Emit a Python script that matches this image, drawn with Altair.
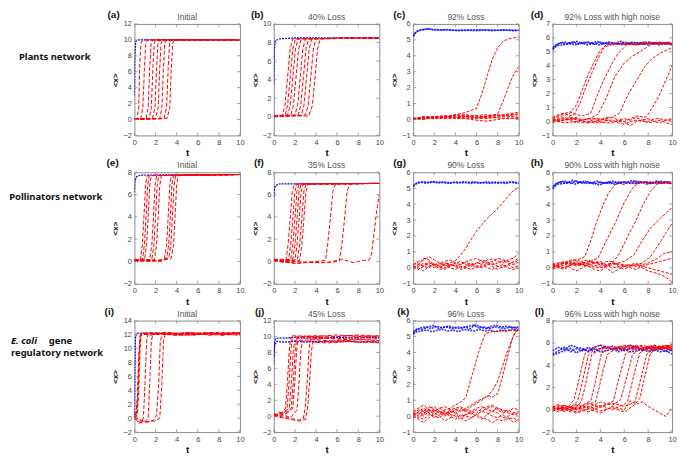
import altair as alt
import pandas as pd

# ---------------- data ----------------
ROW_LABELS = ["Plants network", "Pollinators network", "E. coli gene regulatory network"]
TITLES = {
    "a": "Initial", "b": "40% Loss", "c": "92% Loss", "d": "92% Loss with high noise",
    "e": "Initial", "f": "35% Loss", "g": "90% Loss", "h": "90% Loss with high noise",
    "i": "Initial", "j": "45% Loss", "k": "96% Loss", "l": "96% Loss with high noise",
}
Y_DOMAIN = {"a": [-2, 12], "b": [-2, 10], "c": [-1, 6], "d": [-1, 7],
            "e": [-2, 8], "f": [-2, 8], "g": [-1, 6], "h": [-1, 6],
            "i": [-2, 14], "j": [-2, 12], "k": [-1, 6], "l": [-2, 8]}
Y_TICKS = {"a": [-2, 0, 2, 4, 6, 8, 10, 12], "b": [-2, 0, 2, 4, 6, 8, 10],
           "c": [-1, 0, 1, 2, 3, 4, 5, 6], "d": [-1, 0, 1, 2, 3, 4, 5, 6, 7],
           "e": [-2, 0, 2, 4, 6, 8], "f": [-2, 0, 2, 4, 6, 8],
           "g": [-1, 0, 1, 2, 3, 4, 5, 6], "h": [-1, 0, 1, 2, 3, 4, 5, 6],
           "i": [-2, 0, 2, 4, 6, 8, 10, 12, 14], "j": [-2, 0, 2, 4, 6, 8, 10, 12],
           "k": [-1, 0, 1, 2, 3, 4, 5, 6], "l": [-2, 0, 2, 4, 6, 8]}
X_TICKS = [0, 2, 4, 6, 8, 10]

A_BLUE = [[[0, 3.0], [0.04, 7.5], [0.12, 9.8], [0.4, 10.0], [10, 10.0]]]
A_RED = [
    [[0, 0.1], [0.25, 0.1], [0.4, 1.5], [0.5, 6.5], [0.62, 9.6], [0.8, 10], [10, 10]],
    [[0, 0.0], [0.6, 0.1], [0.8, 1.5], [0.95, 6.5], [1.08, 9.6], [1.25, 10], [10, 10]],
    [[0, 0.1], [1.1, 0.1], [1.3, 1.5], [1.45, 6.5], [1.58, 9.6], [1.75, 10], [10, 10]],
    [[0, 0.0], [1.4, 0.1], [1.6, 1.5], [1.75, 6.5], [1.88, 9.6], [2.05, 10], [10, 10]],
    [[0, 0.1], [1.7, 0.1], [1.95, 1.5], [2.1, 6.5], [2.23, 9.6], [2.4, 10], [10, 10]],
    [[0, 0.0], [2.0, 0.1], [2.25, 1.5], [2.4, 6.5], [2.53, 9.6], [2.7, 10], [10, 10]],
    [[0, 0.1], [2.4, 0.1], [2.6, 1.5], [2.75, 6.5], [2.88, 9.6], [3.05, 10], [10, 10]],
    [[0, 0.0], [2.8, 0.1], [3.05, 1.5], [3.2, 6.5], [3.33, 9.6], [3.5, 10], [10, 10]],
    [[0, 0.1], [3.1, 0.15], [3.35, 1.5], [3.5, 6.5], [3.63, 9.6], [3.8, 10], [10, 10]],
]

B_BLUE = [[[0, 3.5], [0.05, 7.2], [0.15, 8.2], [0.6, 8.4], [2, 8.5], [10, 8.5]]]
B_RED = [
    [[0, 0.1], [0.8, 0.15], [1.05, 1.2], [1.3, 4.2], [1.55, 7.3], [1.8, 8.4], [10, 8.5]],
    [[0, 0.05], [1.05, 0.15], [1.3, 1.2], [1.55, 4.2], [1.8, 7.3], [2.05, 8.4], [10, 8.5]],
    [[0, 0.1], [1.3, 0.2], [1.55, 1.2], [1.8, 4.2], [2.05, 7.3], [2.3, 8.4], [10, 8.5]],
    [[0, 0.0], [1.6, 0.15], [1.85, 1.2], [2.1, 4.2], [2.35, 7.3], [2.6, 8.4], [10, 8.5]],
    [[0, 0.1], [2.0, 0.2], [2.25, 1.2], [2.5, 4.2], [2.75, 7.3], [3.0, 8.4], [10, 8.5]],
    [[0, 0.05], [2.3, 0.15], [2.55, 1.2], [2.8, 4.2], [3.05, 7.3], [3.3, 8.4], [10, 8.5]],
    [[0, 0.1], [2.6, 0.15], [2.85, 1.2], [3.1, 4.2], [3.35, 7.3], [3.6, 8.4], [10, 8.5]],
    [[0, 0.0], [3.0, 0.2], [3.25, 1.2], [3.5, 4.2], [3.75, 7.3], [4.0, 8.4], [10, 8.5]],
    [[0, 0.1], [3.3, 0.1], [3.65, 1.2], [3.9, 4.2], [4.15, 7.3], [4.4, 8.4], [10, 8.5]],
]

C_BLUE = [
    [[0, 5.2], [0.2, 5.45], [0.5, 5.6], [1, 5.65], [1.5, 5.7], [2, 5.65], [3, 5.62], [4, 5.6], [5, 5.62],
     [6, 5.58], [7, 5.62], [8, 5.6], [9, 5.62], [10, 5.6]],
    [[0, 5.25], [0.3, 5.5], [0.7, 5.62], [1.3, 5.68], [2.2, 5.6], [3.2, 5.65], [4.2, 5.58], [5.3, 5.6],
     [6.3, 5.64], [7.4, 5.58], [8.5, 5.63], [9.5, 5.57], [10, 5.6]],
]
C_RED = [
    [[0, 0.05], [1, 0.1], [2, 0.15], [3, 0.2], [4, 0.3], [5, 0.45], [6, 0.7], [6.5, 1.6], [7, 2.7], [7.5, 3.8],
     [8, 4.5], [8.5, 4.9], [9, 5.05], [10, 5.2]],
    [[0, 0.0], [1, 0.1], [2, 0.05], [3, 0.15], [4, 0.1], [5, 0.2], [6, 0.15], [7, 0.2], [8, 0.35], [8.5, 1.1],
     [9, 2.0], [9.5, 2.8], [10, 3.3]],
    [[0, 0.0], [1, 0.1], [2, 0.05], [3, 0.15], [4, 0.2], [5, 0.15], [6, 0.1], [7, 0.05], [8, 0.15], [9, 0.2], [10, 0.15]],
    [[0, 0.05], [1, 0.15], [2, 0.2], [3, 0.1], [4, 0.25], [5, 0.3], [6, 0.2], [7, 0.15], [8, 0.25], [9, 0.3], [10, 0.35]],
    [[0, 0.1], [1, 0.05], [2, 0.1], [3, 0.2], [4, 0.15], [5, 0.05], [6, -0.05], [7, -0.1], [8, 0.0], [9, 0.1], [10, 0.05]],
    [[0, 0.0], [1, 0.2], [2, 0.1], [3, 0.05], [4, 0.1], [5, 0.2], [6, 0.25], [7, 0.3], [8, 0.2], [9, 0.35], [10, 0.45]],
    [[0, 0.05], [1, 0.0], [2, 0.15], [3, 0.25], [4, 0.05], [5, 0.1], [6, 0.05], [7, 0.15], [8, 0.1], [9, 0.05], [10, 0.1]],
    [[0, 0.0], [1, 0.1], [2, 0.2], [3, 0.1], [4, 0.3], [5, 0.25], [6, 0.1], [7, 0.2], [8, 0.3], [9, 0.25], [10, 0.3]],
]

D_BLUE = [
    [[0, 5.15], [0.2, 5.4], [0.5, 5.6], [1, 5.7], [1.5, 5.6], [2, 5.75], [2.5, 5.6], [3, 5.7], [3.5, 5.55], [4, 5.7],
     [4.5, 5.6], [5, 5.65], [5.5, 5.55], [6, 5.7], [6.5, 5.6], [7, 5.65], [7.5, 5.55], [8, 5.7], [8.5, 5.6],
     [9, 5.65], [9.5, 5.55], [10, 5.6]],
    [[0, 5.3], [0.3, 5.5], [0.7, 5.65], [1.2, 5.55], [1.7, 5.7], [2.2, 5.55], [2.7, 5.7], [3.2, 5.6], [3.7, 5.75],
     [4.2, 5.55], [4.7, 5.7], [5.2, 5.6], [5.7, 5.75], [6.2, 5.55], [6.7, 5.7], [7.2, 5.6], [7.7, 5.7], [8.2, 5.55],
     [8.7, 5.65], [9.2, 5.6], [9.7, 5.7], [10, 5.5]],
    [[0, 5.2], [0.4, 5.45], [0.9, 5.5], [1.4, 5.6], [1.9, 5.5], [2.4, 5.65], [2.9, 5.5], [3.4, 5.6], [3.9, 5.5],
     [4.4, 5.62], [4.9, 5.5], [5.4, 5.6], [5.9, 5.5], [6.4, 5.65], [6.9, 5.5], [7.4, 5.6], [7.9, 5.5], [8.4, 5.65],
     [8.9, 5.5], [9.4, 5.6], [10, 5.55]],
]
D_RED = [
    [[0, 0.1], [0.4, 0.3], [0.8, 0.4], [1.2, 0.5], [1.5, 0.6], [2, 1.2], [2.5, 2.3], [3, 3.4], [3.5, 4.3], [4, 5.1],
     [4.5, 5.5], [6, 5.6], [8, 5.7], [10, 5.6]],
    [[0, 0.3], [0.5, 0.5], [1, 0.6], [1.4, 0.4], [1.8, 0.5], [2.3, 1.3], [2.8, 2.5], [3.3, 3.5], [3.8, 4.5], [4.3, 5.3],
     [5, 5.6], [7, 5.5], [9, 5.7], [10, 5.6]],
    [[0, 0.2], [0.7, 0.5], [1.5, 0.7], [2, 0.5], [2.5, 0.4], [3.2, 0.6], [3.7, 1.8], [4.3, 3.0], [5, 4.2], [5.5, 4.9],
     [6.2, 5.5], [8, 5.6], [10, 5.5]],
    [[0, 0.1], [1, 0.2], [2, 0.3], [2.5, 0.1], [3, 0.2], [3.8, 0.5], [4.5, 1.7], [5.2, 3.2], [6, 4.2], [6.7, 4.7],
     [7.5, 5.1], [8.2, 5.5], [9, 5.6], [10, 5.6]],
    [[0, 0.0], [1, 0.1], [2, 0.2], [3, -0.1], [4, 0.1], [5, 0.3], [5.6, 0.6], [6.3, 1.9], [7, 2.9], [7.7, 3.9],
     [8.3, 4.5], [9, 4.9], [10, 5.3]],
    [[0, 0.1], [1, -0.1], [2, 0.0], [3, 0.2], [4, 0.2], [5, 0.0], [6, 0.0], [6.5, 0.2], [7, 0.4], [7.8, 0.3],
     [8.3, 0.9], [9, 2.0], [9.5, 3.0], [10, 4.0]],
    [[0, 0.2], [0.5, 0.0], [1, 0.1], [1.5, 0.3], [2, 0.1], [2.5, -0.1], [3, -0.1], [3.5, 0.2], [4, 0.1], [4.5, 0.3],
     [5, 0.3], [5.5, 0.1], [6, 0.0], [6.5, -0.3], [7, 0.0], [7.5, 0.1], [8, 0.2], [8.5, 0.0], [9, -0.1], [9.5, 0.1],
     [10, 0.1]],
    [[0, 0.0], [0.5, 0.2], [1, 0.3], [1.5, 0.1], [2, -0.1], [2.5, 0.1], [3, 0.2], [3.5, 0.0], [4, 0.0], [4.5, -0.1],
     [5, -0.1], [5.5, 0.1], [6, 0.2], [6.5, 0.1], [7, 0.3], [7.5, 0.1], [8, -0.1], [8.5, 0.0], [9, 0.1], [9.5, -0.1],
     [10, -0.2]],
    [[0, -0.1], [0.5, 0.1], [1, 0.1], [1.5, 0.2], [2, 0.2], [2.5, 0.0], [3, 0.0], [3.5, -0.1], [4, -0.1], [4.5, 0.1],
     [5, 0.1], [5.5, -0.1], [6, -0.2], [6.5, 0.0], [7, 0.1], [7.5, 0.0], [8, 0.0], [8.5, 0.2], [9, 0.2], [9.5, 0.1],
     [10, 0.2]],
]

E_BLUE = [[[0, 6.2], [0.05, 7.2], [0.2, 7.6], [0.6, 7.75], [10, 7.8]]]
E_RED = [
    [[0, 0.1], [0.55, 0.1], [0.75, 1.5], [0.9, 4], [1.05, 6.8], [1.2, 7.7], [10, 7.8]],
    [[0, 0.0], [0.75, 0.15], [0.95, 1.5], [1.1, 4], [1.25, 6.8], [1.4, 7.7], [10, 7.8]],
    [[0, 0.2], [0.95, 0.1], [1.15, 1.5], [1.3, 4], [1.45, 6.8], [1.6, 7.7], [10, 7.8]],
    [[0, 0.1], [0.8, 0.2], [1.45, 0.15], [1.65, 1.5], [1.8, 4], [1.95, 6.8], [2.1, 7.7], [10, 7.8]],
    [[0, 0.0], [1.0, 0.1], [1.65, 0.2], [1.85, 1.5], [2.0, 4], [2.15, 6.8], [2.3, 7.7], [10, 7.8]],
    [[0, 0.15], [1.2, 0.05], [1.9, 0.15], [2.1, 1.5], [2.25, 4], [2.4, 6.8], [2.55, 7.7], [10, 7.8]],
    [[0, 0.1], [1.5, 0.0], [2.5, 0.1], [2.85, 0.3], [3.05, 1.5], [3.2, 4], [3.35, 6.8], [3.5, 7.7], [10, 7.8]],
    [[0, 0.0], [1.5, 0.1], [2.5, 0.0], [3.05, 0.3], [3.25, 1.5], [3.4, 4], [3.55, 6.8], [3.7, 7.7], [10, 7.8]],
    [[0, 0.2], [1.5, 0.05], [2.5, 0.15], [3.25, 0.3], [3.45, 1.5], [3.6, 4], [3.75, 6.8], [3.9, 7.7], [10, 7.8]],
    [[0, 0.1], [1.5, 0.15], [2.5, 0.05], [3.5, 0.3], [3.7, 1.5], [3.85, 4], [4.0, 6.8], [4.15, 7.7], [10, 7.8]],
]

F_BLUE = [[[0, 5.8], [0.05, 6.4], [0.15, 6.8], [0.5, 6.95], [10, 7.0]]]
F_RED = [
    [[0, 0.1], [1.15, 0.1], [1.35, 1.5], [1.55, 3.8], [1.75, 6.3], [1.95, 6.95], [10, 7.0]],
    [[0, 0.0], [1.4, 0.15], [1.6, 1.5], [1.8, 3.8], [2.0, 6.3], [2.2, 6.95], [10, 7.0]],
    [[0, 0.2], [1.6, 0.1], [1.8, 1.5], [2.0, 3.8], [2.2, 6.3], [2.4, 6.95], [10, 7.0]],
    [[0, 0.1], [1.8, 0.2], [2.0, 1.5], [2.2, 3.8], [2.4, 6.3], [2.6, 6.95], [10, 7.0]],
    [[0, 0.0], [2.0, 0.1], [2.2, 1.5], [2.4, 3.8], [2.6, 6.3], [2.8, 6.95], [10, 7.0]],
    [[0, 0.15], [1.2, 0.0], [2.25, 0.2], [2.45, 1.5], [2.65, 3.8], [2.85, 6.3], [3.05, 6.95], [10, 7.0]],
    [[0, 0.1], [1.5, -0.1], [2.45, 0.1], [2.65, 1.5], [2.85, 3.8], [3.05, 6.3], [3.25, 6.95], [10, 7.0]],
    [[0, 0.1], [1, 0.0], [2, -0.15], [3, -0.1], [4, 0.0], [4.9, 0.1], [5.1, 1.5], [5.35, 3.8], [5.6, 6.3],
     [5.85, 6.95], [10, 7.0]],
    [[0, 0.0], [1, 0.05], [2, -0.2], [3, -0.1], [4, -0.05], [5, -0.1], [6.2, 0.0], [6.45, 1.5], [6.7, 3.8],
     [6.95, 6.3], [7.2, 6.95], [10, 7.0]],
    [[0, 0.1], [1, -0.1], [2, 0.0], [3, -0.05], [4, -0.1], [5, -0.1], [6, 0.1], [6.5, 0.2], [7, 0.05], [7.5, -0.1],
     [8, 0.0], [8.5, 0.1], [9.0, 0.1], [9.25, 0.6], [9.5, 2.5], [9.75, 4.6], [10, 6.0]],
]

G_BLUE = [
    [[0, 5.1], [0.2, 5.25], [0.5, 5.35], [1, 5.4], [1.5, 5.35], [2, 5.42], [2.5, 5.33], [3, 5.38], [3.5, 5.32],
     [4, 5.4], [4.5, 5.34], [5, 5.36], [5.5, 5.3], [6, 5.38], [6.5, 5.33], [7, 5.4], [7.5, 5.35], [8, 5.32],
     [8.5, 5.38], [9, 5.35], [9.5, 5.4], [10, 5.3]],
    [[0, 5.15], [0.3, 5.3], [0.7, 5.38], [1.2, 5.32], [1.7, 5.4], [2.2, 5.35], [2.7, 5.4], [3.2, 5.3], [3.7, 5.36],
     [4.2, 5.33], [4.7, 5.4], [5.2, 5.35], [5.7, 5.4], [6.2, 5.32], [6.7, 5.36], [7.2, 5.3], [7.7, 5.38],
     [8.2, 5.36], [8.7, 5.3], [9.2, 5.38], [9.7, 5.33], [10, 5.35]],
]
G_RED = [
    [[0, 0.0], [0.5, 0.2], [1, 0.1], [1.5, 0.3], [2, 0.2], [2.5, 0.1], [3, 0.25], [3.5, 0.3], [4, 0.45], [4.5, 0.8],
     [5, 1.25], [5.5, 1.8], [6.1, 2.4], [6.5, 2.7], [7, 3.1], [7.5, 3.4], [8.1, 3.8], [8.5, 4.1], [9, 4.5],
     [9.5, 4.85], [10, 5.05]],
    [[0, 0.0], [0.5, 0.2], [1, 0.6], [1.5, 0.5], [2, 0.2], [2.5, 0.3], [3, 0.1], [3.5, 0.25], [4, 0.1], [4.5, 0.2],
     [5, 0.35], [5.5, 0.2], [6, 0.3], [6.5, 0.5], [7, 0.4], [7.5, 0.2], [8, 0.3], [8.5, 0.45], [9, 0.3], [9.5, 0.2],
     [10, 0.35]],
    [[0, 0.1], [0.5, -0.1], [1, 0.1], [1.5, 0.0], [2, 0.3], [2.5, 0.1], [3, -0.1], [3.5, 0.1], [4, 0.2], [4.5, 0.0],
     [5, 0.1], [5.5, 0.3], [6, 0.1], [6.5, 0.0], [7, 0.2], [7.5, 0.3], [8, 0.1], [8.5, 0.0], [9, 0.2], [9.5, 0.4],
     [10, 0.6]],
    [[0, 0.2], [0.5, 0.3], [1, 0.1], [1.5, 0.4], [2, 0.1], [2.5, 0.0], [3, 0.2], [3.5, 0.0], [4, -0.1], [4.5, 0.1],
     [5, 0.0], [5.5, -0.1], [6, 0.1], [6.5, 0.2], [7, 0.0], [7.5, -0.1], [8, 0.1], [8.5, 0.2], [9, 0.0], [9.5, -0.1],
     [10, 0.0]],
    [[0, -0.1], [0.5, 0.1], [1, 0.3], [1.5, 0.2], [2, 0.0], [2.5, 0.2], [3, 0.3], [3.5, 0.15], [4, 0.3], [4.5, 0.4],
     [5, 0.2], [5.5, 0.1], [6, 0.3], [6.5, 0.25], [7, 0.5], [7.5, 0.55], [8, 0.4], [8.5, 0.3], [9, 0.5], [9.5, 0.6],
     [10, 0.9]],
    [[0, 0.1], [0.5, 0.0], [1, -0.2], [1.5, 0.1], [2, 0.2], [2.5, -0.1], [3, 0.0], [3.5, 0.2], [4, 0.1], [4.5, -0.1],
     [5, 0.0], [5.5, 0.2], [6, 0.0], [6.5, 0.1], [7, 0.3], [7.5, 0.1], [8, -0.1], [8.5, 0.1], [9, 0.2], [9.5, 0.0],
     [10, 0.15]],
    [[0, 0.2], [0.5, 0.4], [1, 0.5], [1.5, 0.7], [2, 0.5], [2.5, 0.3], [3, 0.4], [3.5, 0.5], [4, 0.3], [4.5, 0.2],
     [5, 0.4], [5.5, 0.5], [6, 0.6], [6.5, 0.4], [7, 0.3], [7.5, 0.4], [8, 0.6], [8.5, 0.5], [9, 0.4], [9.5, 0.3],
     [10, 0.5]],
]

H_BLUE = [
    [[0, 4.95], [0.2, 5.2], [0.5, 5.35], [1, 5.45], [1.5, 5.3], [2, 5.45], [2.5, 5.3], [3, 5.4], [3.5, 5.25], [4, 5.4],
     [4.5, 5.3], [5, 5.45], [5.5, 5.3], [6, 5.4], [6.5, 5.3], [7, 5.45], [7.5, 5.35], [8, 5.4], [8.5, 5.3],
     [9, 5.45], [9.5, 5.35], [10, 5.4]],
    [[0, 5.1], [0.3, 5.3], [0.7, 5.4], [1.2, 5.3], [1.7, 5.5], [2.2, 5.35], [2.7, 5.45], [3.2, 5.3], [3.7, 5.45],
     [4.2, 5.3], [4.7, 5.4], [5.2, 5.25], [5.7, 5.4], [6.2, 5.35], [6.7, 5.5], [7.2, 5.3], [7.7, 5.4], [8.2, 5.3],
     [8.7, 5.45], [9.2, 5.3], [9.7, 5.4], [10, 5.25]],
    [[0, 5.0], [0.4, 5.25], [0.9, 5.3], [1.4, 5.4], [1.9, 5.25], [2.4, 5.4], [2.9, 5.3], [3.4, 5.35], [3.9, 5.2],
     [4.4, 5.35], [4.9, 5.3], [5.4, 5.4], [5.9, 5.25], [6.4, 5.35], [6.9, 5.3], [7.4, 5.4], [7.9, 5.25],
     [8.4, 5.35], [8.9, 5.3], [9.4, 5.4], [10, 5.3]],
]
H_RED = [
    [[0, 0.1], [0.5, 0.3], [1, 0.3], [1.5, 0.5], [2, 0.5], [2.4, 0.6], [2.7, 0.7], [3.2, 1.7], [3.7, 2.9], [4.2, 3.9],
     [4.7, 4.7], [5.2, 5.2], [6, 5.4], [7, 5.3], [8, 5.4], [9, 5.3], [10, 5.3]],
    [[0, 0.0], [0.7, 0.3], [1.5, 0.4], [2.2, 0.2], [3, 0.3], [3.4, 0.5], [3.8, 0.6], [4.5, 1.7], [5.3, 2.9], [6, 4.1],
     [6.6, 4.9], [7.2, 5.4], [8, 5.3], [9, 5.4], [10, 5.3]],
    [[0, 0.2], [1, 0.4], [2, 0.1], [3, 0.3], [4, 0.4], [4.5, 0.2], [5, 0.3], [5.6, 0.9], [6.3, 2.0], [7, 3.0],
     [7.6, 4.0], [8.2, 4.8], [8.8, 5.3], [9.5, 5.4], [10, 5.3]],
    [[0, 0.1], [1, 0.0], [2, 0.3], [3, 0.1], [4, 0.0], [5, 0.2], [6, 0.4], [6.8, 0.8], [7.5, 1.7], [8.2, 2.5],
     [9, 3.1], [9.6, 3.5], [10, 3.8]],
    [[0, 0.0], [1, 0.3], [2, 0.2], [3, 0.4], [4, 0.3], [5, 0.0], [6, 0.1], [7, 0.2], [7.5, 0.3], [8.2, 0.7],
     [9, 1.6], [9.5, 2.2], [10, 2.8]],
    [[0, -0.1], [1, 0.2], [2, 0.5], [3, 0.2], [4, 0.1], [5, 0.3], [6, 0.2], [7, 0.1], [8, 0.3], [8.8, 0.6],
     [9.3, 0.9], [10, 1.0]],
    [[0, 0.2], [0.5, 0.0], [1, -0.1], [1.5, 0.2], [2, 0.4], [2.5, 0.2], [3, 0.1], [3.5, -0.1], [4, -0.2], [4.5, 0.1],
     [5, 0.3], [5.5, 0.2], [6, 0.1], [6.5, 0.0], [7, -0.1], [7.5, 0.1], [8, 0.2], [8.5, 0.3], [9, 0.4], [9.5, 0.5],
     [10, 0.6]],
    [[0, 0.0], [0.5, 0.2], [1, 0.3], [1.5, 0.0], [2, -0.2], [2.5, 0.0], [3, 0.2], [3.5, 0.3], [4, 0.3], [4.5, 0.0],
     [5, -0.3], [5.5, -0.1], [6, 0.1], [6.5, 0.2], [7, 0.3], [7.5, 0.1], [8, 0.0], [8.5, -0.1], [9, -0.2],
     [9.5, -0.3], [10, -0.4]],
    [[0, 0.3], [0.5, 0.1], [1, 0.0], [1.5, 0.3], [2, 0.2], [2.5, 0.4], [3, 0.5], [3.5, 0.3], [4, 0.2], [4.5, 0.4],
     [5, 0.4], [5.5, 0.1], [6, -0.1], [6.5, 0.1], [7, 0.2], [7.5, 0.0], [8, -0.2], [8.5, -0.3], [9, -0.4],
     [9.5, -0.6], [10, -0.9]],
]

I_BLUE = [[[0, 0.3], [0.04, 6.0], [0.1, 11.5], [0.2, 12.2], [1, 12.2], [3, 12.15], [5, 12.2], [7, 12.15], [10, 12.2]]]
I_RED = [
    [[0, 0.5], [0.15, 0.8], [0.3, 3.0], [0.42, 9.0], [0.55, 12.0], [1, 12.2], [2, 12.3], [3, 12.0], [4, 11.9],
     [5, 12.2], [6, 12.2], [7, 11.9], [8, 12.0], [9, 12.3], [10, 12.3]],
    [[0, -0.2], [0.2, 0.3], [0.35, 4.0], [0.48, 10.0], [0.62, 12.1], [1.5, 11.9], [2.5, 12.2], [3.5, 12.3],
     [4.5, 11.9], [5.5, 12.0], [6.5, 12.3], [7.5, 12.1], [8.5, 11.9], [9.5, 12.2], [10, 12.0]],
    [[0, 0.8], [0.1, 0.2], [0.25, 2.0], [0.4, 8.0], [0.52, 11.8], [1.2, 12.2], [2.2, 12.0], [3.2, 12.2],
     [4.2, 11.9], [5.2, 12.3], [6.2, 12.0], [7.2, 12.2], [8.2, 11.9], [9.2, 12.1], [10, 12.1]],
    [[0, 0.0], [0.25, 0.5], [0.4, 3.5], [0.52, 9.5], [0.65, 12.2], [1.7, 12.0], [2.7, 12.3], [3.7, 12.0],
     [4.7, 12.1], [5.7, 11.9], [6.7, 12.2], [7.7, 12.3], [8.7, 12.0], [10, 11.9]],
    [[0, 0.3], [0.3, -0.5], [0.6, -0.6], [0.85, 0.0], [1.0, 5.0], [1.15, 11.0], [1.3, 12.1], [3, 12.0], [5, 12.3],
     [7, 12.0], [10, 12.2]],
    [[0, 0.0], [0.5, -0.7], [1.0, -0.5], [1.3, 0.0], [1.45, 5.0], [1.6, 11.0], [1.75, 12.1], [3, 12.2], [5, 11.9],
     [7, 12.2], [10, 12.0]],
    [[0, 0.2], [0.6, -0.4], [1.2, -0.6], [1.8, -0.3], [2.1, 0.5], [2.3, 5.0], [2.45, 11.0], [2.6, 12.0], [4, 12.2],
     [6, 12.0], [8, 12.3], [10, 12.1]],
    [[0, 0.1], [1.0, -0.5], [2.0, -0.4], [2.4, 0.0], [2.6, 5.0], [2.75, 11.0], [2.9, 12.1], [4, 11.9], [6, 12.2],
     [8, 12.0], [10, 12.2]],
]

J_BLUE = [
    [[0, 6.5], [0.05, 9.0], [0.15, 9.7], [0.5, 9.85], [1, 9.8], [2, 9.9], [3, 9.8], [4, 9.85], [5, 9.8], [6, 9.9],
     [7, 9.85], [8, 9.8], [9, 9.9], [10, 9.85]],
    [[0, 7.5], [0.1, 9.0], [0.3, 9.4], [1, 9.3], [2, 9.4], [3, 9.3], [4, 9.4], [5, 9.35], [6, 9.3], [7, 9.4],
     [8, 9.3], [9, 9.35], [10, 9.3]],
]
J_RED = [
    [[0, 0.3], [0.5, 0.2], [0.9, 0.6], [1.1, 1.0], [1.3, 4.5], [1.45, 8.0], [1.6, 9.9], [3, 10.0], [5, 9.9],
     [7, 10.1], [10, 10.0]],
    [[0, 0.0], [0.5, 0.5], [1.0, 0.4], [1.26, 1.0], [1.46, 4.5], [1.61, 8.0], [1.76, 10.1], [4, 10.0], [6, 10.2],
     [8, 10.0], [10, 10.1]],
    [[0, 0.1], [0.5, 0.3], [1.2, 0.7], [1.48, 1.0], [1.68, 4.5], [1.83, 8.0], [1.98, 9.5], [4, 9.6], [6, 9.4],
     [8, 9.6], [10, 9.5]],
    [[0, 0.2], [0.6, 0.0], [1.3, 0.4], [1.66, 1.0], [1.86, 4.5], [2.01, 8.0], [2.16, 9.8], [4, 9.9], [6, 9.7],
     [8, 9.9], [10, 9.8]],
    [[0, 0.1], [0.7, 0.3], [1.4, 0.6], [1.8, 1.0], [2.0, 4.5], [2.15, 8.0], [2.3, 10.0], [4, 10.1], [6, 10.0],
     [8, 10.2], [10, 10.0]],
    [[0, 0.0], [0.8, 0.2], [1.6, -0.2], [2.2, 0.8], [2.4, 4.5], [2.55, 8.0], [2.7, 9.4], [4, 9.3], [6, 9.5],
     [8, 9.3], [10, 9.4]],
    [[0, 0.2], [0.8, -0.1], [1.6, -0.3], [2.4, -0.5], [2.8, -0.3], [2.97, 1.0], [3.17, 4.5], [3.32, 8.0],
     [3.47, 9.7], [5, 9.8], [7, 9.6], [10, 9.7]],
    [[0, 0.0], [0.8, -0.2], [1.6, -0.4], [2.4, -0.6], [3.0, -0.4], [3.2, 1.0], [3.4, 4.5], [3.55, 8.0], [3.7, 9.3],
     [5, 9.2], [7, 9.4], [10, 9.2]],
]

K_BLUE = [
    [[0, 5.2], [0.3, 5.4], [0.7, 5.55], [1.2, 5.6], [1.7, 5.5], [2.2, 5.65], [2.7, 5.55], [3.2, 5.6], [3.7, 5.5],
     [4.2, 5.6], [4.7, 5.55], [5.2, 5.65], [5.7, 5.7], [6.2, 5.55], [6.7, 5.6], [7.2, 5.5], [7.7, 5.6],
     [8.2, 5.55], [8.7, 5.5], [9.2, 5.6], [9.7, 5.55], [10, 5.5]],
    [[0, 5.3], [0.4, 5.5], [0.9, 5.45], [1.4, 5.6], [1.9, 5.7], [2.4, 5.5], [2.9, 5.6], [3.4, 5.65], [3.9, 5.55],
     [4.4, 5.5], [4.9, 5.6], [5.4, 5.5], [5.9, 5.75], [6.4, 5.6], [6.9, 5.5], [7.4, 5.65], [7.9, 5.7], [8.4, 5.6],
     [8.9, 5.65], [9.4, 5.55], [10, 5.6]],
    [[0, 5.15], [0.3, 5.3], [0.8, 5.35], [1.3, 5.4], [1.8, 5.3], [2.3, 5.4], [2.8, 5.45], [3.3, 5.35], [3.8, 5.4],
     [4.3, 5.3], [4.8, 5.45], [5.3, 5.4], [5.8, 5.35], [6.3, 5.45], [6.8, 5.35], [7.3, 5.4], [7.8, 5.3],
     [8.3, 5.4], [8.8, 5.35], [9.3, 5.45], [10, 5.4]],
]
K_RED = [
    [[0, 0.2], [0.5, 0.4], [1, 0.3], [1.5, 0.6], [2, 0.4], [2.5, 0.2], [3, 0.4], [3.5, 0.5], [4, 0.7], [4.65, 0.95],
     [5, 1.2], [5.3, 1.9], [5.6, 2.6], [5.9, 3.3], [6.2, 4.0], [6.5, 4.6], [6.85, 5.2], [7.5, 5.3], [8.5, 5.35],
     [10, 5.4]],
    [[0, 0.0], [0.5, 0.3], [1, 0.5], [1.5, 0.2], [2, 0.3], [2.5, 0.5], [3, 0.3], [3.5, 0.2], [4, 0.4], [4.5, 0.3],
     [5, 0.5], [5.5, 0.7], [6, 0.9], [6.5, 1.1], [7, 1.2], [7.6, 1.7], [8.0, 2.2], [8.3, 2.8], [8.6, 3.4],
     [8.9, 4.0], [9.3, 4.7], [9.7, 5.3], [10, 5.4]],
    [[0, 0.1], [0.5, -0.1], [1, 0.2], [1.5, 0.4], [2, 0.1], [2.5, 0.3], [3, 0.1], [3.5, 0.3], [4, 0.2], [4.5, 0.4],
     [5, 0.3], [5.5, 0.6], [6, 0.8], [6.5, 1.0], [7, 1.3], [7.5, 1.2], [8.0, 1.4], [8.35, 2.2], [8.7, 3.1],
     [9.05, 4.0], [9.4, 4.9], [9.8, 5.4], [10, 5.5]],
    [[0, 0.0], [0.5, 0.3], [1, 0.1], [1.5, 0.5], [2, 0.6], [2.5, 0.3], [3, 0.1], [3.5, 0.4], [4, 0.2], [4.5, 0.0],
     [5, 0.1], [5.5, 0.3], [6, 0.2], [6.5, 0.5], [7, 0.6], [7.5, 0.7], [8, 0.5], [8.5, 0.4], [9, 0.2], [9.5, 0.1],
     [10, 0.2]],
    [[0, 0.2], [0.5, 0.0], [1, -0.2], [1.5, 0.1], [2, 0.0], [2.5, -0.1], [3, 0.2], [3.5, 0.0], [4, -0.2], [4.5, 0.1],
     [5, 0.0], [5.5, -0.1], [6, 0.1], [6.5, 0.3], [7, 0.2], [7.5, 0.0], [8, -0.1], [8.5, 0.1], [9, -0.2],
     [9.5, -0.1], [10, -0.3]],
    [[0, -0.1], [0.5, 0.1], [1, 0.4], [1.5, 0.2], [2, -0.1], [2.5, 0.1], [3, 0.3], [3.5, 0.1], [4, 0.0], [4.5, -0.2],
     [5, 0.1], [5.5, 0.2], [6, 0.0], [6.5, -0.2], [7, 0.1], [7.5, 0.3], [8, 0.2], [8.5, -0.1], [9, 0.0], [9.5, 0.2],
     [10, 0.0]],
    [[0, 0.3], [0.5, 0.5], [1, 0.7], [1.5, 0.4], [2, 0.3], [2.5, 0.5], [3, 0.6], [3.5, 0.4], [4, 0.5], [4.5, 0.6],
     [5, 0.4], [5.5, 0.3], [6, 0.5], [6.5, 0.6], [7, 0.4], [7.5, 0.3], [8, 0.5], [8.5, 0.3], [9, 0.4], [9.5, 0.2],
     [10, 0.3]],
    [[0, 0.0], [0.5, -0.2], [1, -0.4], [1.5, -0.1], [2, 0.2], [2.5, 0.0], [3, -0.3], [3.5, -0.1], [4, 0.1],
     [4.5, -0.1], [5, -0.3], [5.5, -0.1], [6, 0.1], [6.5, -0.1], [7, -0.2], [7.5, -0.4], [8, -0.2], [8.5, -0.3],
     [9, -0.1], [9.5, -0.4], [10, -0.2]],
    [[0, 0.1], [0.5, 0.2], [1, 0.0], [1.5, 0.3], [2, 0.4], [2.5, 0.2], [3, 0.0], [3.5, 0.2], [4, 0.4], [4.5, 0.5],
     [5, 0.3], [5.5, 0.1], [6, 0.4], [6.5, 0.3], [7, 0.5], [7.5, 0.6], [8, 0.4], [8.5, 0.2], [9, 0.3], [9.5, 0.5],
     [10, 0.4]],
]

L_BLUE = [
    [[0, 5.0], [0.5, 5.3], [1, 5.6], [1.5, 5.2], [2, 5.5], [2.5, 5.3], [3, 5.6], [3.5, 5.2], [4, 5.5], [4.5, 5.7],
     [5, 5.4], [5.5, 5.6], [6, 5.3], [6.5, 5.5], [7, 5.7], [7.5, 5.4], [8, 5.6], [8.5, 5.3], [9, 5.5], [9.5, 5.2],
     [10, 5.4]],
    [[0, 5.3], [0.5, 5.6], [1, 5.4], [1.5, 5.8], [2, 5.6], [2.5, 5.5], [3, 5.2], [3.5, 5.6], [4, 5.8], [4.5, 5.5],
     [5, 5.7], [5.5, 5.4], [6, 5.6], [6.5, 5.8], [7, 5.5], [7.5, 5.3], [8, 5.5], [8.5, 5.7], [9, 5.4], [9.5, 5.6],
     [10, 5.3]],
    [[0, 4.9], [0.5, 5.1], [1, 5.3], [1.5, 5.5], [2, 5.1], [2.5, 5.4], [3, 5.3], [3.5, 5.5], [4, 5.2], [4.5, 5.3],
     [5, 5.5], [5.5, 5.2], [6, 5.4], [6.5, 5.2], [7, 5.3], [7.5, 5.5], [8, 5.2], [8.5, 5.4], [9, 5.2], [9.5, 5.3],
     [10, 5.0]],
]
L_RED = [
    [[0, 0.0], [0.5, 0.3], [1, -0.2], [1.5, 0.5], [1.8, 0.9], [2.1, 2.2], [2.4, 3.6], [2.7, 5.0], [3.2, 5.5], [4, 5.8],
     [5, 5.5], [6, 5.7], [7, 5.4], [8, 5.7], [9, 5.5], [10, 5.6]],
    [[0, 0.3], [0.5, 0.0], [1, 0.4], [1.5, 0.2], [2.1, 0.8], [2.4, 2.1], [2.7, 3.5], [3.0, 4.9], [3.5, 5.4],
     [4.5, 5.6], [5.5, 5.3], [6.5, 5.8], [7.5, 5.5], [8.5, 5.8], [9.5, 5.4], [10, 5.5]],
    [[0, -0.1], [0.5, 0.2], [1, 0.1], [1.5, -0.2], [2, 0.3], [2.4, 0.7], [2.7, 2.0], [3.0, 3.5], [3.3, 5.0], [4, 5.4],
     [5, 5.7], [6, 5.4], [7, 5.8], [8, 5.5], [9, 5.7], [10, 5.4]],
    [[0, 0.2], [0.5, 0.5], [1, 0.1], [1.5, 0.3], [2, 0.0], [2.5, 0.4], [3.2, 0.8], [3.5, 2.1], [3.8, 3.6], [4.1, 5.1],
     [5, 5.5], [6, 5.8], [7, 5.6], [8, 5.4], [9, 5.7], [10, 5.8]],
    [[0, 0.1], [0.5, -0.2], [1, 0.2], [1.5, 0.0], [2, 0.4], [2.5, 0.1], [3, 0.5], [3.6, 0.7], [3.9, 2.0], [4.2, 3.4],
     [4.6, 5.0], [5.5, 5.6], [6.5, 5.4], [7.5, 5.8], [8.5, 5.5], [9.5, 5.7], [10, 5.5]],
    [[0, 0.0], [1, 0.3], [2, 0.1], [3, 0.6], [4, 0.2], [4.5, 0.5], [5.1, 0.8], [5.4, 2.2], [5.75, 3.6], [6.1, 5.0],
     [7, 5.6], [8, 5.3], [9, 5.6], [10, 5.7]],
    [[0, 0.2], [1, 0.0], [2, 0.5], [3, 0.2], [4, 0.7], [5, 0.4], [5.7, 0.9], [6.0, 2.1], [6.35, 3.5], [6.7, 5.0],
     [7.5, 5.5], [8.5, 5.8], [9.5, 5.5], [10, 5.9]],
    [[0, -0.1], [1, 0.2], [2, -0.3], [3, 0.1], [4, 0.4], [5, 0.0], [6, 0.5], [6.3, 0.8], [6.6, 2.2], [6.95, 3.7],
     [7.3, 5.1], [8, 5.6], [9, 5.4], [10, 5.7]],
    [[0, 0.1], [1, -0.1], [2, 0.2], [3, -0.2], [4, 0.3], [5, 0.6], [6, 0.3], [6.9, 0.7], [7.2, 2.0], [7.55, 3.5],
     [7.9, 5.0], [8.5, 5.5], [9.5, 5.8], [10, 5.5]],
    [[0, 0.3], [1, 0.4], [2, 0.0], [3, 0.3], [4, -0.1], [5, 0.2], [6, -0.2], [6.8, 0.4], [7.3, 1.0], [7.6, 2.4],
     [7.9, 3.8], [8.2, 5.1], [9, 5.6], [10, 5.4]],
    [[0, 0.0], [1, 0.2], [2, -0.2], [3, 0.1], [4, -0.3], [5, 0.3], [6, 0.0], [6.5, 0.8], [7, 0.5], [7.5, 0.7],
     [8, 0.3], [8.5, 0.0], [9, -0.3], [9.5, -0.6], [10, 0.2]],
]

CURVES = {"a": (A_BLUE, A_RED), "b": (B_BLUE, B_RED), "c": (C_BLUE, C_RED), "d": (D_BLUE, D_RED),
          "e": (E_BLUE, E_RED), "f": (F_BLUE, F_RED), "g": (G_BLUE, G_RED), "h": (H_BLUE, H_RED),
          "i": (I_BLUE, I_RED), "j": (J_BLUE, J_RED), "k": (K_BLUE, K_RED), "l": (L_BLUE, L_RED)}
NOISY = {"c", "d", "g", "h", "k", "l"}

# ---------------- layout / style ----------------
W, WD, H = 106, 120, 112
LABEL_W = 90
HSP, VSP = 34, 37
TICK = 3
LABEL_DX = {"a": -27, "b": -23, "c": -20, "d": -22, "e": -28, "f": -20, "g": -20, "h": -22,
            "i": -30, "j": -19, "k": -16, "l": -18}
AX_FONT = "Liberation Sans"
FRAME = "#8c8c8c"


def to_frame(curves, tag):
    rows = []
    for ci, c in enumerate(curves):
        for oi, (t, v) in enumerate(c):
            rows.append({"t": t, "v": v, "id": f"{tag}{ci}", "o": oi})
    return pd.DataFrame(rows)


def panel(key):
    blue, red = CURVES[key]
    lo, hi = Y_DOMAIN[key]
    width = WD if key in ("d", "h", "l") else W
    xs = alt.Scale(domain=[0, 10], nice=False, zero=False)
    ys = alt.Scale(domain=[lo, hi], nice=False, zero=False)
    x = alt.X("t:Q", scale=xs,
              axis=alt.Axis(values=X_TICKS, title="t", grid=False, domain=False, ticks=False,
                            labelFontSize=7.5, labelColor="#444", labelPadding=3, labelFont=AX_FONT,
                            labelOverlap=False, titleFontSize=10, titleFontWeight="bold", titleColor="#111",
                            titlePadding=2, titleFont=AX_FONT, labelFlush=False))
    y = alt.Y("v:Q", scale=ys,
              axis=alt.Axis(values=Y_TICKS[key], title="<x>", grid=False, domain=False, ticks=False,
                            labelFontSize=7.5, labelColor="#444", labelPadding=3, labelFont=AX_FONT,
                            labelOverlap=False, titleFontSize=8, titleFontWeight="bold", titleColor="#111",
                            titlePadding=3, titleFont=AX_FONT, labelFlush=False))
    noisy = key in NOISY
    b = alt.Chart(to_frame(blue, "b")).mark_line(
        color="#0000ff", strokeWidth=1.6 if noisy else 1.2, strokeDash=[2, 1],
        opacity=0.8 if noisy else 1.0, clip=True
    ).encode(x=x, y=y, detail="id:N", order="o:Q")
    r = alt.Chart(to_frame(red, "r")).mark_line(
        color="#ff0000", strokeWidth=1.0, strokeDash=[4, 2] if not noisy else [3, 1.5], clip=True
    ).encode(x=x, y=y, detail="id:N", order="o:Q")
    # MATLAB-like inward ticks on all four sides
    xt = pd.DataFrame({"t": X_TICKS})
    yt = pd.DataFrame({"v": Y_TICKS[key]})
    tick_style = dict(color=FRAME, strokeWidth=0.8)
    xb = alt.Chart(xt).mark_rule(**tick_style).encode(x=x, y=alt.value(H), y2=alt.value(H - TICK))
    xtp = alt.Chart(xt).mark_rule(**tick_style).encode(x=x, y=alt.value(0), y2=alt.value(TICK))
    yl = alt.Chart(yt).mark_rule(**tick_style).encode(y=y, x=alt.value(0), x2=alt.value(TICK))
    yr = alt.Chart(yt).mark_rule(**tick_style).encode(y=y, x=alt.value(width), x2=alt.value(width - TICK))
    lab = alt.Chart(pd.DataFrame({"s": [f"({key})"]})).mark_text(
        fontSize=10, fontWeight="bold", align="left", baseline="middle", font="Liberation Sans", color="#111"
    ).encode(x=alt.value(LABEL_DX[key]), y=alt.value(-9), text="s:N")
    ttl = alt.Chart(pd.DataFrame({"s": [TITLES[key]]})).mark_text(
        fontSize=8.5, align="center", baseline="middle", font=AX_FONT, color="#555"
    ).encode(x=alt.value(width / 2), y=alt.value(-7), text="s:N")
    return alt.layer(b, r, xb, xtp, yl, yr, lab, ttl).properties(
        width=width, height=H,
        view=alt.ViewBackground(stroke=FRAME, strokeWidth=1),
    )


def row_label(idx):
    base_props = dict(width=LABEL_W, height=H, view=alt.ViewBackground(stroke="transparent"))
    font = "Noto Sans"
    if idx < 2:
        px, py = (44, 33) if idx == 0 else (45, 25)
        df = pd.DataFrame({"s": [ROW_LABELS[idx]]})
        return alt.Chart(df).mark_text(fontSize=9.5, fontWeight="bold", font=font, align="center",
                                       baseline="middle", color="#111").encode(
            x=alt.value(px), y=alt.value(py), text="s:N").properties(**base_props)
    words = ROW_LABELS[2]
    part1 = alt.Chart(pd.DataFrame({"s": [words[:7]]})).mark_text(
        fontSize=9.5, fontWeight="bold", fontStyle="italic", font=font, align="left", baseline="middle",
        color="#111").encode(x=alt.value(0), y=alt.value(20), text="s:N")
    part2 = alt.Chart(pd.DataFrame({"s": [words[8:12]]})).mark_text(
        fontSize=9.5, fontWeight="bold", font=font, align="left", baseline="middle",
        color="#111").encode(x=alt.value(38), y=alt.value(20), text="s:N")
    part3 = alt.Chart(pd.DataFrame({"s": [words[13:]]})).mark_text(
        fontSize=9.5, fontWeight="bold", font=font, align="left", baseline="middle",
        color="#111").encode(x=alt.value(0), y=alt.value(33), text="s:N")
    return alt.layer(part1, part2, part3).properties(**base_props)


KEYS = [["a", "b", "c", "d"], ["e", "f", "g", "h"], ["i", "j", "k", "l"]]
cells = []
for ri, keys in enumerate(KEYS):
    cells.append(row_label(ri))
    cells.extend(panel(k) for k in keys)

chart = alt.concat(*cells, columns=5, spacing=alt.RowColnumber(row=VSP, column=HSP),
                   bounds="flush", align="each").properties(
    padding={"left": 0, "top": 0, "right": 0, "bottom": 0}
).configure(background="white")

chart.save("out.html", embed_options={"renderer": "svg", "actions": False})
